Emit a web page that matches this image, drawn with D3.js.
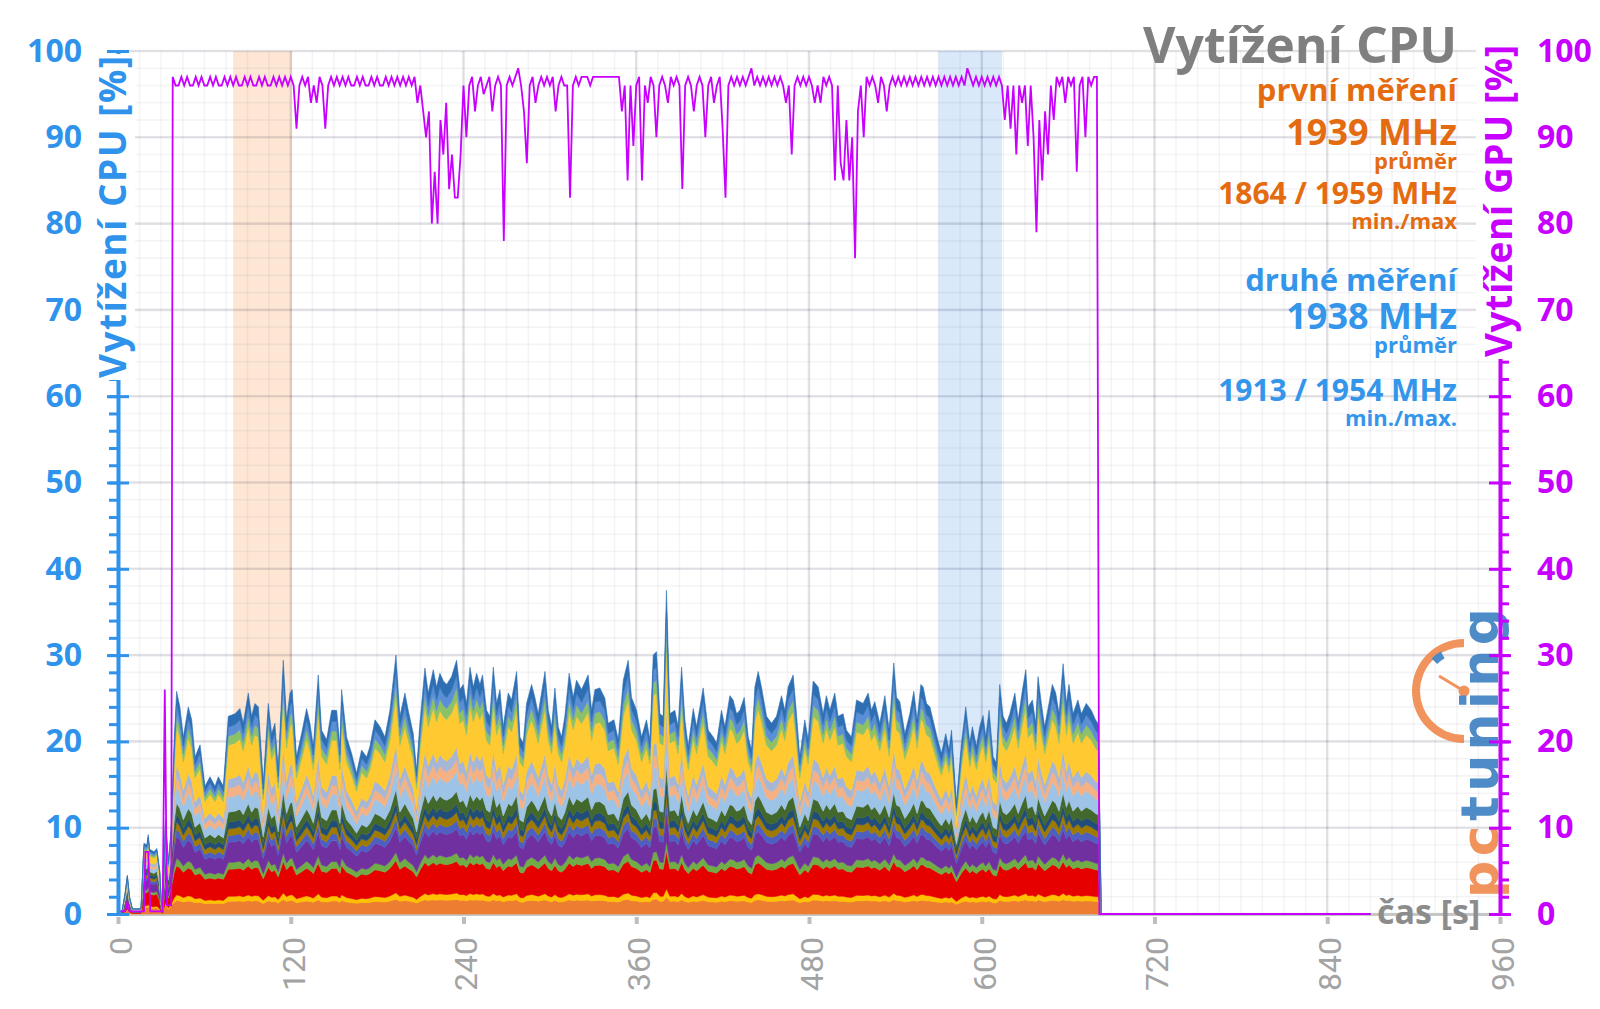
<!DOCTYPE html>
<html>
<head>
<meta charset="utf-8">
<script src="https://cdn.jsdelivr.net/npm/d3@7"></script>
<style>
  html, body { margin: 0; padding: 0; background: #fff; }
  svg { display: block; font-family: "Open Sans", sans-serif; }
</style>
</head>
<body>
<svg id="chart" width="1600" height="1009"></svg>
<script>
// ---- data ----
const xTicks = [0, 120, 240, 360, 480, 600, 720, 840, 960];
const yTicks = [0, 10, 20, 30, 40, 50, 60, 70, 80, 90, 100];

// total CPU load [%] (top of the stacked threads), [seconds, value]
const cpuTotal = [
  [0,0],[3,0.5],[5,2.5],[6.5,4.5],[8,2],[10,0.6],[16,0.6],[18,8.2],[20,8],[21,9.2],[22,7.5],[25,7.2],[27,7.6],[29,5],[30,1.5],[31,0.5],
  [33,11],[35,6],[37,10],[39,20],[40.7,25.8],[43,24],[45.4,20.5],[48.8,24],[51.2,22.5],[53.5,18.2],[57,19.6],[60.4,14.8],[63.9,15.9],
  [67.4,14.8],[69.7,15.9],[73.2,14.8],[76.6,22.9],[81.3,23.2],[84.7,23.8],[87,22.1],[90.5,25.6],[92.8,22.9],[95.1,24.4],[97.5,24],
  [100.9,15.1],[104.4,24.4],[106.7,20.9],[109,22.1],[111.3,16.7],[114.8,29.4],[117.1,22.5],[119.5,25.6],[121,26],[124,18.2],[127.5,20.9],
  [131,23.8],[133.3,22.1],[135.7,19.4],[139.1,27.7],[141.4,21.3],[144.9,20.2],[148.4,23.6],[151.9,23.6],[154.2,19.4],[155.3,26],[158.8,20.5],
  [162.3,18.6],[165.7,16.3],[169.2,19],[172.7,18.2],[175,19.4],[178.5,22.5],[182,21.7],[185.4,20.5],[188.9,23.6],[193.1,30],[195.8,22.9],
  [199.3,25.6],[201.6,23.6],[205.1,20.9],[207.4,16.7],[209.7,22.1],[213.2,28.5],[215.5,25.6],[219,28.3],[221.3,26.3],[223.6,27.9],[226,27],
  [228.3,26.6],[231.7,27.5],[235.2,29.4],[237.5,26],[239.8,26.6],[242.1,24.4],[244.5,28.6],[246.8,26.3],[249.1,27.9],[251.4,26.6],[253.2,27.7],
  [256,23.6],[258.3,22.9],[260.7,28.6],[263,24.4],[265.3,26],[267.6,21.7],[271.1,25.6],[273.4,24.8],[276.9,28.1],[279.2,20.5],[281.5,19.8],
  [283.8,24.4],[287.3,26.6],[289.6,25.1],[291.9,23.2],[294.2,25.6],[296.6,28.1],[298.9,23.6],[301.2,21.7],[303.5,26.2],[305.8,21.7],[308.1,20.5],
  [310.4,22.9],[313.4,27.9],[316.2,25.1],[318.5,27.1],[322,26],[326.6,27.7],[329,23.6],[331.3,26],[334.7,26.2],[338.2,25],[340.5,22.1],
  [344.5,22.5],[347.5,20.2],[351,27.1],[354.4,29.4],[356.7,25.1],[360.2,23.6],[363.7,20.5],[367.1,22.5],[369.5,20.2],[371.8,30],[374.1,30.4],
  [376.4,23.2],[378.7,22.9],[381,37.5],[383.4,23.2],[386.8,23.6],[389.1,21.7],[391.5,28.6],[393.8,22.5],[396.1,19.4],[399.6,23.8],[401.9,21.7],
  [406.5,26.2],[410,21.3],[413.5,20.5],[415.8,19.8],[419.2,23.6],[421.6,21.7],[425,25.3],[427.3,24.8],[429.7,23.2],[432,23.6],[435,25.1],
  [437.8,20.5],[440.1,19],[442.4,26.3],[444.7,28.1],[447,26.3],[450.5,22.9],[454,22.1],[457.4,22.9],[460.9,25.3],[463.2,23.6],[465.5,26.3],
  [469,27.7],[471.3,23.2],[473.6,18.2],[477.1,22.5],[479.4,20.2],[482.9,27],[486.4,26.3],[489.8,23.2],[492.1,25.3],[494.5,23.6],[497.9,25.6],
  [500.2,22.9],[503.7,23.2],[506,21.3],[509.5,20.5],[513,24.8],[517.6,24.4],[521.1,25.6],[523.4,23.6],[525.7,24.6],[529.2,22.1],[532.7,25.3],
  [535.7,21.3],[538.9,29.1],[540.8,25.1],[543.1,24.6],[546.6,20.9],[550,23.2],[552.8,25.8],[555.1,22.5],[557.7,26.6],[559.3,26.3],[561.6,24.4],
  [564,24],[566.7,22.1],[569.7,20],[572,18.6],[575,20.9],[577.3,19],[579,21.3],[582.4,12.8],[585.9,19.8],[588.9,24],[591.7,19.8],[593.5,21.7],
  [596.3,19.4],[598.6,21.7],[600.9,23],[602.8,20.5],[605.1,23.6],[607.9,18.2],[610.2,17.5],[612.5,26.6],[614.8,22.9],[617.2,22.1],[619.5,23.2],
  [623,25.6],[625.3,22.5],[628.3,26],[630.6,28.3],[632.2,24],[635.2,24.8],[637.5,22.1],[639.1,27.5],[641.4,24.4],[643.7,21.7],[646.7,24.4],
  [649,26.6],[651.4,25.6],[653.7,23.2],[656.5,29],[658.8,24.4],[660.6,26.6],[663.4,23.2],[666.8,24.8],[669.2,23.2],[672.6,24.4],[676.1,23.6],
  [679,22.5],[681,22],[683,0],[870,0]
];

// per-thread load when the machine is quiet and the part each thread adds on top when it is busy
const threadIdle  = [1.1, 0.3, 2.2, 0.5, 1.5, 0.5, 0.5, 0.5, 0.6, 0.7, 0.5, 0.5, 1.2, 0.4, 0.4, 0.4];
const threadBurst = [0.4, 0.3, 1.0, 0.3, 0.9, 0.3, 0.3, 0.3, 0.6, 1.1, 0.6, 0.6, 2.9, 0.7, 0.7, 0.9];

// GPU load [%]
const gpuLead = [[0,0.3],[5,0.3],[6.5,1.4],[8,0.3],[18,0.3],[19,7.2],[21,7.2],[22.5,0.3],[31,0.3],[32.5,26],[34,1],[37,1]];
const gpuStart = 38, gpuStep = 2;
const gpuLoad = [
  97,96,96,97,96,97,96,96,97,96,97,96,96,97,96,97,96,96,97,
  96,97,96,97,96,96,97,96,97,96,96,97,96,97,96,96,97,96,97,96,
  97,96,97,96,91,96,97,96,97,94,96,94,97,96,91,96,97,96,97,96,
  97,96,97,96,96,97,96,97,96,96,97,96,97,96,96,97,96,97,96,97,
  96,97,96,97,96,97,94,96,93,90,93,80,86,80,92,88,94,84,88,83,
  83,88,96,90,96,97,93,96,97,95,96,97,93,96,97,96,78,96,97,96,
  97,98,96,93,87,96,97,94,96,97,96,97,96,97,93,96,97,96,96,83,
  96,97,96,97,97,97,96,97,97,97,97,97,97,97,97,97,97,93,96,85,
  96,89,96,97,85,96,94,97,96,90,96,97,96,94,97,96,97,96,84,96,
  97,96,93,96,97,96,90,96,97,94,96,97,91,83,96,97,96,97,96,97,
  96,97,98,96,97,96,97,96,97,96,97,96,97,96,94,96,88,96,97,96,
  97,96,97,96,94,96,94,97,96,97,96,85,96,87,85,92,85,90,76,93,
  96,90,97,96,97,96,94,97,96,93,96,97,96,97,96,97,96,97,96,97,
  96,97,96,97,96,97,96,97,96,97,96,97,96,97,96,97,96,98,97,96,
  97,96,97,96,97,96,97,96,97,96,92,96,91,96,88,96,94,96,89,96,
  90,79,92,85,93,88,96,92,97,96,97,94,97,96,97,86,96,97,90,97,
  96,97,97
];
const gpuTail = [[681.7,0],[870,0]];

// marked intervals [s]
const firstRun = [80, 121];
const secondRun = [570, 614];

// ---- styles ----
const threadColor = ["#ed7d31","#ffc000","#e60000","#70ad47","#7030a0","#4e5fc2","#9e7b00","#204d7a",
                     "#43682b","#9dc3e6","#f4b183","#a5b6d6","#ffc931","#8cc168","#5b8fd5","#2e6fb4"];
const cpuBlue = "#2f93ec", gpuPurple = "#c800ff", orangeTxt = "#e56b10", blueTxt = "#3496eb";

const svg = d3.select("#chart");
const x = d3.scaleLinear().domain([0, 960]).range([118, 1500]);
const y = d3.scaleLinear().domain([0, 100]).range([914, 51]);

// bands
svg.append("g").selectAll("rect").data([firstRun, secondRun]).join("rect")
  .attr("x", d => x(d[0])).attr("width", d => x(d[1]) - x(d[0]))
  .attr("y", y(100)).attr("height", y(0) - y(100))
  .attr("fill", (d, i) => i ? "#d9e9fa" : "#fde6d4");

// grid
const grid = svg.append("g");
grid.selectAll("line.vm").data(d3.range(0, 961, 15)).join("line")
  .attr("x1", d => x(d)).attr("x2", d => x(d)).attr("y1", y(100)).attr("y2", y(0))
  .attr("stroke", "rgba(0,0,40,0.045)").attr("stroke-width", 1.6);
grid.selectAll("line.hm").data(d3.range(0, 101, 2)).join("line")
  .attr("y1", d => y(d)).attr("y2", d => y(d)).attr("x1", x(0)).attr("x2", x(960))
  .attr("stroke", "rgba(0,0,40,0.045)").attr("stroke-width", 1.6);
grid.selectAll("line.vM").data(xTicks).join("line")
  .attr("x1", d => x(d)).attr("x2", d => x(d)).attr("y1", y(100)).attr("y2", y(0))
  .attr("stroke", "rgba(0,0,40,0.09)").attr("stroke-width", 2.6);
grid.selectAll("line.hM").data(yTicks).join("line")
  .attr("y1", d => y(d)).attr("y2", d => y(d)).attr("x1", x(0)).attr("x2", x(960))
  .attr("stroke", "rgba(0,0,40,0.09)").attr("stroke-width", 2.6);

// x axis
const xAxis = svg.append("g").attr("transform", `translate(0,${y(0)})`)
  .call(d3.axisBottom(x).tickValues(xTicks).tickSize(10).tickSizeOuter(0).tickFormat(d3.format("d")));
xAxis.select(".domain").attr("stroke", "#c6c6c6").attr("stroke-width", 3);
xAxis.selectAll(".tick line").attr("stroke", "#bdbdbd").attr("stroke-width", 4).attr("y1", 3);
xAxis.selectAll(".tick text")
  .attr("transform", "rotate(-90)").attr("x", -23).attr("y", 0).attr("dy", "0.42em")
  .attr("text-anchor", "end").attr("fill", "#a3a3a3")
  .style("font-family", '"Liberation Sans Narrow", "Roboto", sans-serif').style("font-size", "32px");

// stacked threads
const idleSum = d3.sum(threadIdle), burstSum = d3.sum(threadBurst);
const keys = threadIdle.map((d, i) => "c" + i);
const rows = cpuTotal.map(([t, v]) => {
  const r = { t };
  threadIdle.forEach((b, i) => {
    r[keys[i]] = v <= idleSum ? v * b / idleSum : b + (v - idleSum) * threadBurst[i] / burstSum;
  });
  return r;
});
const layers = d3.stack().keys(keys)(rows);
const area = d3.area().x(d => x(d.data.t)).y0(d => y(d[0])).y1(d => y(d[1]));
svg.append("g").selectAll("path").data(layers).join("path")
  .attr("d", area).attr("fill", (d, i) => threadColor[i])
  .attr("stroke", (d, i) => threadColor[i]).attr("stroke-width", 0.6);

// gpu line
const gpuPts = gpuLead.concat(gpuLoad.map((v, i) => [gpuStart + i * gpuStep, v]), gpuTail);
svg.append("path").datum(gpuPts)
  .attr("d", d3.line().x(d => x(d[0])).y(d => y(d[1])))
  .attr("fill", "none").attr("stroke", gpuPurple).attr("stroke-width", 1.8);

// logo
const logo = svg.append("g").attr("opacity", 0.9);
logo.append("path").attr("transform", "translate(1464,691)")
  .attr("d", d3.arc()({ innerRadius: 44, outerRadius: 52, startAngle: Math.PI, endAngle: 2 * Math.PI }))
  .attr("fill", "#f0884c");
logo.append("path").attr("transform", "translate(1464,691)")
  .attr("d", d3.arc()({ innerRadius: 38, outerRadius: 46, startAngle: 5.5, endAngle: 5.75 }))
  .attr("fill", "#3d7fc2");
logo.append("line").attr("x1", 1439).attr("y1", 676).attr("x2", 1464).attr("y2", 691)
  .attr("stroke", "#f0884c").attr("stroke-width", 3);
logo.append("circle").attr("cx", 1464).attr("cy", 691).attr("r", 5.5).attr("fill", "#f0884c");
const logoTxt = logo.append("text").attr("transform", "translate(1498,898) rotate(-90)")
  .attr("textLength", 290).attr("lengthAdjust", "spacing")
  .style("font-family", '"DejaVu Sans", sans-serif').style("font-weight", 700).style("font-size", "52px");
logoTxt.append("tspan").attr("fill", "#f0884c").text("pc");
logoTxt.append("tspan").attr("fill", "#3d7fc2").text("tuning");

// left axis
const yl = svg.append("g").attr("transform", `translate(${x(0)},0)`)
  .call(d3.axisLeft(y).tickValues(d3.range(0, 101, 2)).tickSize(9).tickSizeOuter(0).tickFormat(""));
yl.select(".domain").attr("stroke", cpuBlue).attr("stroke-width", 4);
yl.selectAll(".tick line").attr("stroke", cpuBlue).attr("stroke-width", 3);
const ylM = svg.append("g").attr("transform", `translate(${x(0)},0)`)
  .call(d3.axisLeft(y).tickValues(yTicks).tickSize(11).tickPadding(25));
ylM.select(".domain").remove();
ylM.selectAll(".tick line").attr("x1", 11).attr("stroke", cpuBlue).attr("stroke-width", 3);
ylM.selectAll(".tick text").attr("fill", cpuBlue)
  .style("font-family", '"Open Sans", sans-serif').style("font-weight", 700).style("font-size", "32px");

// right axis
const yr = svg.append("g").attr("transform", `translate(${x(960)},0)`)
  .call(d3.axisRight(y).tickValues(d3.range(0, 101, 2)).tickSize(9).tickSizeOuter(0).tickFormat(""));
yr.select(".domain").attr("stroke", gpuPurple).attr("stroke-width", 4);
yr.selectAll(".tick line").attr("stroke", gpuPurple).attr("stroke-width", 3);
const yrM = svg.append("g").attr("transform", `translate(${x(960)},0)`)
  .call(d3.axisRight(y).tickValues(yTicks).tickSize(11).tickPadding(26));
yrM.select(".domain").remove();
yrM.selectAll(".tick line").attr("x1", -11).attr("stroke", gpuPurple).attr("stroke-width", 3);
yrM.selectAll(".tick text").attr("fill", gpuPurple)
  .style("font-family", '"Open Sans", sans-serif').style("font-weight", 700).style("font-size", "32px");

// axis titles with a white backing that hides the axis line
function axisTitle(tx, ty, len, label, color) {
  const g = svg.append("g").attr("transform", `translate(${tx},${ty}) rotate(-90)`);
  const bg = g.append("rect").attr("fill", "#fff");
  const t = g.append("text").text(label).attr("fill", color)
    .attr("textLength", len).attr("lengthAdjust", "spacing")
    .style("font-weight", 700).style("font-size", "37px");
  const b = t.node().getBBox();
  bg.attr("x", b.x - 2).attr("y", b.y + 4).attr("width", b.width + 4).attr("height", b.height - 6);
}
axisTitle(126, 378, 322, "Vytížení CPU [%]", cpuBlue);
axisTitle(1512, 357, 312, "Vytížení GPU [%]", gpuPurple);

// time label
svg.append("text").attr("x", 1377).attr("y", 924).text("čas [s]")
  .attr("fill", "#8c8c8c").style("font-weight", 700).style("font-size", "34px");

// title and info block
function info(yb, size, color, label) {
  svg.append("text").attr("x", 1457).attr("y", yb).attr("text-anchor", "end")
    .attr("fill", color).style("font-weight", 700).style("font-size", size + "px").text(label);
}
info(63, 50, "#7f7f7f", "Vytížení CPU");
info(101, 31, orangeTxt, "první měření");
info(145, 36, orangeTxt, "1939 MHz");
info(169, 22, orangeTxt, "průměr");
info(204, 30, orangeTxt, "1864 / 1959 MHz");
info(229, 22, orangeTxt, "min./max");
info(291, 31, blueTxt, "druhé měření");
info(329, 36, blueTxt, "1938 MHz");
info(353, 22, blueTxt, "průměr");
info(401, 30, blueTxt, "1913 / 1954 MHz");
info(426, 22, blueTxt, "min./max.");
</script>
</body>
</html>
